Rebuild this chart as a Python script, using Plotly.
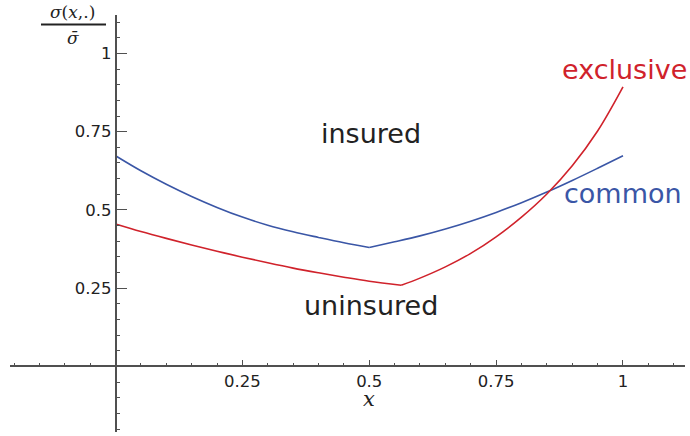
import plotly.graph_objects as go

# ---- data ----
x_common = [0.0, 0.05, 0.1, 0.15, 0.2, 0.25, 0.3, 0.35, 0.4, 0.45, 0.5,
            0.55, 0.6, 0.65, 0.7, 0.75, 0.8, 0.85, 0.9, 0.95, 1.0]
y_common = [0.673, 0.625, 0.582, 0.543, 0.508, 0.477, 0.451, 0.430, 0.412, 0.395, 0.380,
            0.398, 0.417, 0.439, 0.464, 0.492, 0.523, 0.557, 0.594, 0.633, 0.673]
common_kink = 10

x_exclusive = [0.0, 0.05, 0.1, 0.15, 0.2, 0.25, 0.3, 0.35, 0.4, 0.45, 0.5, 0.563,
               0.6, 0.65, 0.7, 0.75, 0.8, 0.85, 0.9, 0.95, 1.0]
y_exclusive = [0.455, 0.431, 0.409, 0.388, 0.368, 0.349, 0.331, 0.314, 0.299, 0.285, 0.272, 0.259,
               0.282, 0.318, 0.361, 0.414, 0.477, 0.551, 0.641, 0.752, 0.893]
exclusive_kink = 11

tick_vals = [0.25, 0.5, 0.75, 1]
tick_text = ["0.25", "0.5", "0.75", "1"]

XR = [-0.2079, 1.1222]
YR = [-0.2096, 1.1227]

RED = "#d0222b"
BLUE = "#3a56a6"
TXT = "#222222"
AX = "#505050"

fig = go.Figure()
for xs, ys, k, col in [(x_common, y_common, common_kink, BLUE),
                       (x_exclusive, y_exclusive, exclusive_kink, RED)]:
    for seg in (slice(0, k + 1), slice(k, None)):
        fig.add_trace(go.Scatter(x=xs[seg], y=ys[seg], mode="lines",
                                 line=dict(color=col, width=1.6, shape="spline", smoothing=1.0),
                                 showlegend=False, hoverinfo="skip"))

xpos = (0 - YR[0]) / (YR[1] - YR[0])
ypos = (0 - XR[0]) / (XR[1] - XR[0])

tickfont = dict(family="DejaVu Sans", size=16.5, color=TXT)
fig.update_xaxes(range=XR, anchor="free", position=xpos, showgrid=False, zeroline=False,
                 showline=True, linecolor=AX, linewidth=1.6,
                 tickmode="array", tickvals=tick_vals, ticktext=tick_text,
                 ticks="inside", ticklen=6, tickwidth=1.4, tickcolor=AX, tickfont=tickfont,
                 minor=dict(tickmode="linear", tick0=0, dtick=0.05, ticks="inside",
                            ticklen=2.5, tickwidth=1.2, tickcolor=AX))
fig.update_yaxes(range=YR, anchor="free", position=ypos, showgrid=False, zeroline=False,
                 showline=True, linecolor=AX, linewidth=1.6,
                 tickmode="array", tickvals=tick_vals, ticktext=tick_text,
                 ticks="inside", ticklen=11, tickwidth=1.4, tickcolor=AX, tickfont=tickfont,
                 minor=dict(tickmode="linear", tick0=0, dtick=0.05, ticks="inside",
                            ticklen=4, tickwidth=1.2, tickcolor=AX))

big = dict(family="DejaVu Sans", size=27)
ctr = dict(showarrow=False, xanchor="center", yanchor="middle")
fig.add_annotation(x=0.503, y=0.744, text="insured", font=dict(color=TXT, **big), **ctr)
fig.add_annotation(x=0.503, y=0.195, text="uninsured", font=dict(color=TXT, **big), **ctr)
fig.add_annotation(x=1.003, y=0.949, text="exclusive", font=dict(color=RED, **big), **ctr)
fig.add_annotation(x=1.0, y=0.552, text="common", font=dict(color=BLUE, **big), **ctr)

# axis labels
fig.add_annotation(x=0.5, y=-0.104, text="<i>x</i>",
                   font=dict(family="DejaVu Serif", size=21, color=TXT), **ctr)
fig.add_annotation(xref="paper", yref="paper", x=(72 - 10) / 675, y=(432 - 12) / 417,
                   text="<i>σ</i>(<i>x</i>,.)",
                   font=dict(family="DejaVu Serif", size=17, color=TXT), **ctr)
fig.add_annotation(xref="paper", yref="paper", x=(73 - 10) / 675, y=(432 - 38) / 417,
                   text="<i>σ̄</i>",
                   font=dict(family="DejaVu Serif", size=17, color=TXT), **ctr)
fig.add_shape(type="line", xref="paper", yref="paper",
              x0=(41 - 10) / 675, x1=(106 - 10) / 675,
              y0=(432 - 24.5) / 417, y1=(432 - 24.5) / 417,
              line=dict(color=TXT, width=2))

fig.update_layout(width=690, height=436, margin=dict(l=10, r=5, t=15, b=4),
                  plot_bgcolor="white", paper_bgcolor="white")

fig.write_html("out.html", config={"displayModeBar": False},
               post_script="document.body.style.margin='0';")
